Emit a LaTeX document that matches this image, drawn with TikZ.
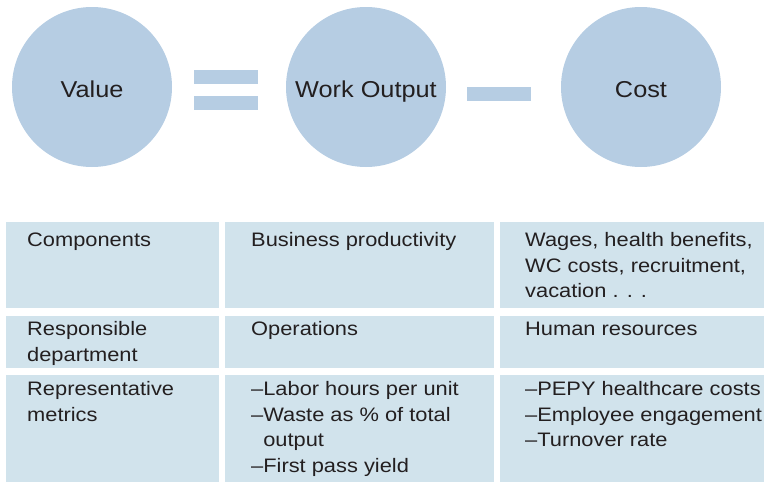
\documentclass[tikz,border=0pt]{standalone}
\usepackage{fontspec}
\setmainfont{Liberation Sans}
\newfontfamily\bubblefont[FakeStretch=1.1]{Liberation Sans}
\newfontfamily\cellfont[FakeStretch=1.12]{Liberation Sans}
\definecolor{bubblefill}{RGB}{182,205,227}
\definecolor{cellfill}{RGB}{209,227,236}
\definecolor{ink}{RGB}{35,31,32}

\begin{document}
\begin{tikzpicture}[x=1pt, y=-1pt, line join=round, line cap=round,
  bubble/.style={circle, fill=bubblefill, minimum size=160pt, inner sep=0pt, text=ink,
    text height=20.5pt, text depth=0pt, font=\bubblefont\fontsize{23}{27}\selectfont},
  opbar/.style={rectangle, fill=bubblefill, minimum width=64pt, minimum height=14pt, inner sep=0pt},
  cell/.style={rectangle, fill=cellfill, anchor=north west, inner sep=0pt},
  celltext/.style={anchor=north west, inner sep=0pt, align=left, text=ink,
    font=\cellfont\fontsize{19.5}{25.5}\selectfont, execute at begin node=\strut}]
\useasboundingbox (0,0) rectangle (764,482);
\node[bubble] (value) at (92,87) {Value};
\node[bubble] (output) at (366,87) {Work Output};
\node[bubble] (cost) at (641,87) {Cost};
\node[opbar] (eqtop) at (226,76.5) {};
\node[opbar] (eqbottom) at (226,102.5) {};
\node[opbar] (minus) at (499,93.5) {};
\node[cell, minimum width=213pt, minimum height=86pt] (c11) at (6,222) {};
\node[cell, minimum width=269pt, minimum height=86pt] (c12) at (225,222) {};
\node[cell, minimum width=270pt, minimum height=86pt] (c13) at (500,222) {};
\node[cell, minimum width=213pt, minimum height=52pt] (c21) at (6,316) {};
\node[cell, minimum width=269pt, minimum height=52pt] (c22) at (225,316) {};
\node[cell, minimum width=270pt, minimum height=52pt] (c23) at (500,316) {};
\node[cell, minimum width=213pt, minimum height=107pt] (c31) at (6,375) {};
\node[cell, minimum width=269pt, minimum height=107pt] (c32) at (225,375) {};
\node[cell, minimum width=270pt, minimum height=107pt] (c33) at (500,375) {};
\node[celltext] (t11) at (27,228) {Components};
\node[celltext] (t12) at (251,228) {Business productivity};
\node[celltext] (t13) at (525,232.5) {Wages, health benefits,\\WC costs, recruitment,\\vacation . . .};
\node[celltext] (t21) at (27,321.5) {Responsible\\department};
\node[celltext] (t22) at (251,317) {Operations};
\node[celltext] (t23) at (525,317) {Human resources};
\node[celltext] (t31) at (27,381.5) {Representative\\metrics};
\node[celltext] (t32) at (251,381.5) {–Labor hours per unit\\–Waste as \% of total\\\phantom{–}output\\–First pass yield};
\node[celltext] (t33) at (525,381.5) {–PEPY healthcare costs\\–Employee engagement\\–Turnover rate};
\end{tikzpicture}
\end{document}
